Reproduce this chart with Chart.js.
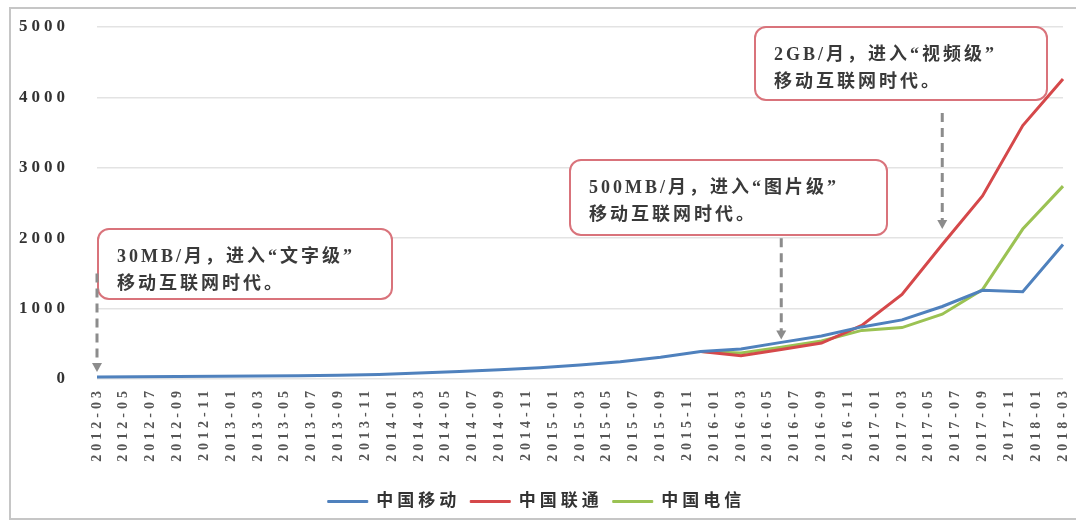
<!DOCTYPE html>
<html>
<head>
<meta charset="utf-8">
<script src="https://cdn.jsdelivr.net/npm/chart.js@4.4.0/dist/chart.umd.min.js"></script>
<style>
  html, body { margin: 0; padding: 0; background: #fff; }
  #wrap { position: relative; width: 1076px; height: 520px; overflow: hidden; }
  #frame { position: absolute; left: 9px; top: 7px; width: 1100px; height: 509px; border: 2px solid #c6c6c6; }
  canvas { position: absolute; left: 0; top: 0; }
</style>
</head>
<body>
<div id="wrap">
  <div id="frame"></div>
  <canvas id="douChart" width="1076" height="520"></canvas>
</div>
<script>
// quarterly DOU (MB per user per month)
const quarters = ['2012-03', '2012-06', '2012-09', '2012-12', '2013-03', '2013-06', '2013-09', '2013-12',
  '2014-03', '2014-06', '2014-09', '2014-12', '2015-03', '2015-06', '2015-09', '2015-12',
  '2016-03', '2016-06', '2016-09', '2016-12', '2017-03', '2017-06', '2017-09', '2017-12', '2018-03'];
const mobile = [30, 32, 35, 38, 42, 47, 55, 65, 85, 105, 130, 160, 200, 245, 310, 390,
  425, 520, 610, 740, 840, 1030, 1260, 1240, 1910];

// Unicom / Telecom only reported from 2015-12
const lateQuarters = ['2015-12', '2016-03', '2016-06', '2016-09', '2016-12', '2017-03', '2017-06', '2017-09', '2017-12', '2018-03'];
const unicom = [390, 330, 420, 510, 760, 1200, 1910, 2600, 3600, 4260];
const telecom = [390, 370, 450, 540, 690, 730, 920, 1270, 2130, 2740];

const yTicks = [0, 1000, 2000, 3000, 4000, 5000];

// monthly category axis, every other month is labelled
const months = [];
for (let yr = 2012, mo = 3; yr < 2018 || (yr === 2018 && mo <= 3);) {
  months.push(yr + '-' + String(mo).padStart(2, '0'));
  mo++;
  if (mo > 12) { mo = 1; yr++; }
}

const notes = [
  { lines: ['30MB/月，进入“文字级”', '移动互联网时代。'], box: [98, 229, 294, 70], month: '2012-03', from: 1500, to: 100 },
  { lines: ['500MB/月，进入“图片级”', '移动互联网时代。'], box: [570, 160, 317, 75], month: '2016-06', from: 2000, to: 560 },
  { lines: ['2GB/月，进入“视频级”', '移动互联网时代。'], box: [755, 27, 292, 73], month: '2017-06', from: 3780, to: 2130 }
];

const points = (xs, ys) => xs.map((x, i) => ({ x: x, y: ys[i] }));

Chart.defaults.font.family = '"Liberation Serif", "Noto Sans CJK SC", serif';
Chart.defaults.font.weight = 'bold';

// the original artwork is widely spaced
const spacing = {
  id: 'spacing',
  beforeUpdate(chart) { chart.ctx.letterSpacing = '4px'; },
  beforeDraw(chart) { chart.ctx.letterSpacing = '4px'; }
};

const callouts = {
  id: 'callouts',
  afterDraw(chart) {
    const { ctx, scales: { x, y } } = chart;
    ctx.save();
    notes.forEach(n => {
      const [bx, by, bw, bh] = n.box;
      ctx.beginPath();
      ctx.roundRect(bx, by, bw, bh, 11);
      ctx.fillStyle = '#fff';
      ctx.fill();
      ctx.lineWidth = 2;
      ctx.strokeStyle = '#d9737b';
      ctx.stroke();

      ctx.font = 'bold 18px "Liberation Serif", "Noto Sans CJK SC", serif';
      ctx.letterSpacing = '3px';
      ctx.fillStyle = '#3a3a3a';
      ctx.textBaseline = 'middle';
      n.lines.forEach((t, i) => ctx.fillText(t, bx + 19, by + 28 + i * 27));

      // dashed pointer
      const px = x.getPixelForValue(months.indexOf(n.month));
      const top = y.getPixelForValue(n.from);
      const tip = y.getPixelForValue(n.to);
      ctx.strokeStyle = '#8c8c8c';
      ctx.fillStyle = '#8c8c8c';
      ctx.lineWidth = 3;
      ctx.setLineDash([9, 6]);
      ctx.beginPath();
      ctx.moveTo(px, top);
      ctx.lineTo(px, tip - 8);
      ctx.stroke();
      ctx.setLineDash([]);
      ctx.beginPath();
      ctx.moveTo(px - 5, tip - 9);
      ctx.lineTo(px + 5, tip - 9);
      ctx.lineTo(px, tip);
      ctx.closePath();
      ctx.fill();
    });
    ctx.restore();
  }
};

const series = [
  { label: '中国移动', data: points(quarters, mobile), color: '#4f81bd' },
  { label: '中国联通', data: points(lateQuarters, unicom), color: '#d5484a' },
  { label: '中国电信', data: points(lateQuarters, telecom), color: '#9bc253' }
];

new Chart(document.getElementById('douChart'), {
  type: 'line',
  data: {
    labels: months,
    datasets: series.map(s => ({
      label: s.label,
      data: s.data,
      borderColor: s.color,
      backgroundColor: s.color,
      borderWidth: 3,
      pointRadius: 0,
      tension: 0
    }))
  },
  options: {
    responsive: false,
    animation: false,
    layout: { padding: { left: 10, right: 13, top: 27, bottom: 0 } },
    plugins: {
      tooltip: { enabled: false },
      legend: {
        position: 'bottom',
        labels: {
          boxWidth: 40,
          boxHeight: 2,
          padding: 10,
          color: '#333',
          font: { size: 17, weight: 'bold' },
          generateLabels(chart) {
            const items = Chart.defaults.plugins.legend.labels.generateLabels(chart);
            items.forEach(it => { it.fillStyle = it.strokeStyle; it.lineWidth = 1; });
            return items;
          }
        }
      }
    },
    scales: {
      x: {
        offset: false,
        grid: { display: false, drawTicks: false },
        border: { display: false },
        ticks: {
          autoSkip: false,
          minRotation: 90,
          maxRotation: 90,
          padding: 8,
          color: '#555',
          font: { size: 14, weight: 'bold' },
          callback(v, i) { return i % 2 === 0 ? months[i] : ''; }
        },
        afterFit(s) {
          s.height = 104;
          s.paddingLeft = 0;
          s.paddingRight = 0;
        }
      },
      y: {
        min: yTicks[0],
        max: yTicks[yTicks.length - 1],
        grid: { color: '#e3e3e3', lineWidth: 1.5, drawTicks: false },
        border: { display: false },
        ticks: {
          stepSize: yTicks[1] - yTicks[0],
          padding: 28,
          color: '#333',
          font: { size: 17, weight: 'bold' },
          callback(v) { return String(v); }
        },
        afterFit(s) {
          s.width = 87;
          s.paddingTop = 0;
          s.paddingBottom = 0;
        }
      }
    }
  },
  plugins: [spacing, callouts]
});
</script>
</body>
</html>
